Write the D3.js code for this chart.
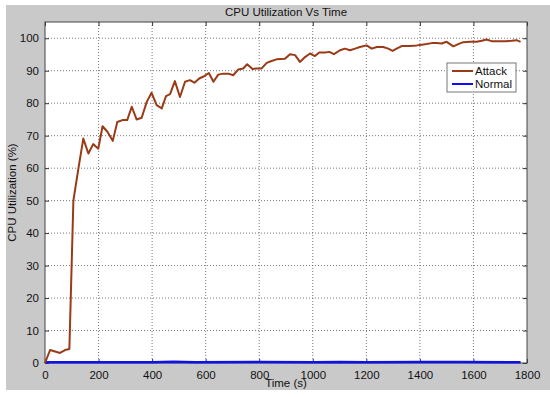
<!DOCTYPE html>
<html>
<head>
<meta charset="utf-8">
<script src="https://cdn.jsdelivr.net/npm/d3@7"></script>
<style>
  body { margin: 0; background: #fff; }
  svg text { font-family: "Liberation Sans", Arial, sans-serif; }
</style>
</head>
<body>
<div id="chart"></div>
<script>
// Attack series: time (s) and CPU utilization (%)
var attackTime = [0, 19, 56, 75, 91, 106, 125, 143, 162, 180, 199, 215, 233, 253, 270, 289, 307, 324, 342, 361,
  380, 398, 417, 436, 452, 467, 485, 504, 523, 541, 558, 576, 594, 612, 629, 647, 666, 685, 703, 722,
  740, 755, 775, 790, 809, 828, 846, 865, 896, 915, 934, 952, 971, 990, 1008, 1024, 1046, 1062, 1079, 1102,
  1120, 1139, 1158, 1176, 1201, 1220, 1239, 1263, 1282, 1298, 1313, 1332, 1363, 1388, 1407, 1425, 1444, 1463, 1481, 1500,
  1525, 1543, 1562, 1587, 1612, 1631, 1649, 1668, 1693, 1718, 1743, 1761, 1776];
var attackValue = [0, 4, 3.1, 4, 4.3, 50, 60, 69.1, 64.5, 67.4, 66, 72.9, 71.2, 68.4, 74.2, 74.8, 74.8, 78.9, 75, 75.5,
  80.4, 83.2, 79.4, 78.4, 82.2, 82.8, 86.8, 81.9, 86.6, 87.1, 86.3, 87.6, 88.3, 89.3, 86.6, 88.8, 89.1, 89.1, 88.6, 90.4,
  90.7, 92, 90.5, 90.7, 90.7, 92.4, 93, 93.5, 93.7, 95.1, 94.8, 92.7, 94.2, 95.3, 94.5, 95.6, 95.6, 95.8, 95.1, 96.3,
  96.8, 96.3, 96.8, 97.3, 97.8, 96.8, 97.3, 97.3, 96.8, 96.1, 96.8, 97.6, 97.6, 97.8, 98, 98.2, 98.5, 98.5, 98.4, 98.9,
  97.5, 98.2, 98.8, 98.9, 98.9, 99.2, 99.6, 99.1, 99.1, 99.1, 99.2, 99.4, 98.9];

// Normal series: stays near zero
var normalTime = [0, 200, 400, 480, 560, 800, 1000, 1100, 1200, 1400, 1550, 1776];
var normalValue = [0.2, 0.2, 0.2, 0.4, 0.2, 0.3, 0.2, 0.3, 0.2, 0.3, 0.3, 0.2];

var xTicks = [0, 200, 400, 600, 800, 1000, 1200, 1400, 1600, 1800];
var yTicks = [0, 10, 20, 30, 40, 50, 60, 70, 80, 90, 100];
var seriesNames = ["Attack", "Normal"];
var seriesColors = ["#9a3a16", "#1010ee"];

var W = 550, H = 397;
var margin = {top: 22, right: 23, bottom: 34, left: 45};
var width = W - margin.left - margin.right,
    height = H - margin.top - margin.bottom;

var svg = d3.select("#chart").append("svg")
  .attr("width", W)
  .attr("height", H);

// figure background
svg.append("rect")
  .attr("x", 6).attr("y", 5)
  .attr("width", W - 6).attr("height", 385)
  .attr("fill", "#c9c9c9");

var g = svg.append("g")
  .attr("transform", "translate(" + margin.left + "," + margin.top + ")");

var x = d3.scaleLinear().domain([0, 1800]).range([0, width]);
var y = d3.scaleLinear().domain([0, 105]).range([height, 0]);

g.append("rect")
  .attr("width", width).attr("height", height)
  .attr("fill", "#fff");

// grid lines
g.selectAll(".vgrid").data(xTicks.slice(1, -1)).enter().append("line")
  .attr("x1", d => x(d)).attr("x2", d => x(d))
  .attr("y1", 0).attr("y2", height)
  .attr("stroke", "#555").attr("stroke-width", 0.8)
  .attr("stroke-dasharray", "1,2");
g.selectAll(".hgrid").data(yTicks.slice(1)).enter().append("line")
  .attr("x1", 0).attr("x2", width)
  .attr("y1", d => y(d)).attr("y2", d => y(d))
  .attr("stroke", "#555").attr("stroke-width", 0.8)
  .attr("stroke-dasharray", "1,2");

// axes (inward ticks, like matlab)
var fmt = d3.format("d");
g.append("g")
  .attr("transform", "translate(0," + height + ")")
  .call(d3.axisBottom(x).tickValues(xTicks).tickFormat(fmt).tickSizeInner(-4).tickSizeOuter(0).tickPadding(8));
g.append("g")
  .call(d3.axisLeft(y).tickValues(yTicks).tickFormat(fmt).tickSizeInner(-4).tickSizeOuter(0).tickPadding(6));
g.append("g")
  .call(d3.axisTop(x).tickValues(xTicks).tickSizeInner(-4).tickSizeOuter(0).tickFormat(""));
g.append("g")
  .attr("transform", "translate(" + width + ",0)")
  .call(d3.axisRight(y).tickValues(yTicks).tickSizeInner(-4).tickSizeOuter(0).tickFormat(""));

g.selectAll(".domain").remove();
g.selectAll(".tick line").attr("stroke", "#333");
g.selectAll(".tick text").attr("font-size", "11.5px").attr("fill", "#111");

// box
g.append("rect")
  .attr("width", width).attr("height", height)
  .attr("fill", "none").attr("stroke", "#444").attr("stroke-width", 1);

// lines
var line = d3.line()
  .x(d => x(d[0]))
  .y(d => y(d[1]));

var attackData = attackTime.map((t, i) => [t, attackValue[i]]);
var normalData = normalTime.map((t, i) => [t, normalValue[i]]);

g.append("path")
  .datum(normalData)
  .attr("fill", "none")
  .attr("stroke", seriesColors[1])
  .attr("stroke-width", 2.5)
  .attr("d", line);

g.append("path")
  .datum(attackData)
  .attr("fill", "none")
  .attr("stroke", seriesColors[0])
  .attr("stroke-width", 2)
  .attr("stroke-linejoin", "round")
  .attr("d", line);

// title and labels
svg.append("text")
  .attr("x", margin.left + width / 2).attr("y", 16)
  .attr("text-anchor", "middle")
  .attr("font-size", "11.5px")
  .attr("fill", "#111")
  .text("CPU Utilization Vs Time");

svg.append("text")
  .attr("x", margin.left + width / 2).attr("y", 387)
  .attr("text-anchor", "middle")
  .attr("font-size", "11.5px")
  .attr("fill", "#111")
  .text("Time (s)");

svg.append("text")
  .attr("transform", "translate(16," + (margin.top + height / 2) + ") rotate(-90)")
  .attr("text-anchor", "middle")
  .attr("font-size", "11.5px")
  .attr("fill", "#111")
  .text("CPU Utilization (%)");

// legend
var legend = svg.append("g").attr("transform", "translate(447,63)");
legend.append("rect")
  .attr("width", 69).attr("height", 29)
  .attr("fill", "#fff").attr("stroke", "#777");
seriesNames.forEach(function(name, i) {
  legend.append("line")
    .attr("x1", 5).attr("x2", 26)
    .attr("y1", 8 + i * 13).attr("y2", 8 + i * 13)
    .attr("stroke", seriesColors[i]).attr("stroke-width", 2);
  legend.append("text")
    .attr("x", 28).attr("y", 12 + i * 13)
    .attr("font-size", "11.5px")
    .attr("fill", "#111")
    .text(name);
});
</script>
</body>
</html>
